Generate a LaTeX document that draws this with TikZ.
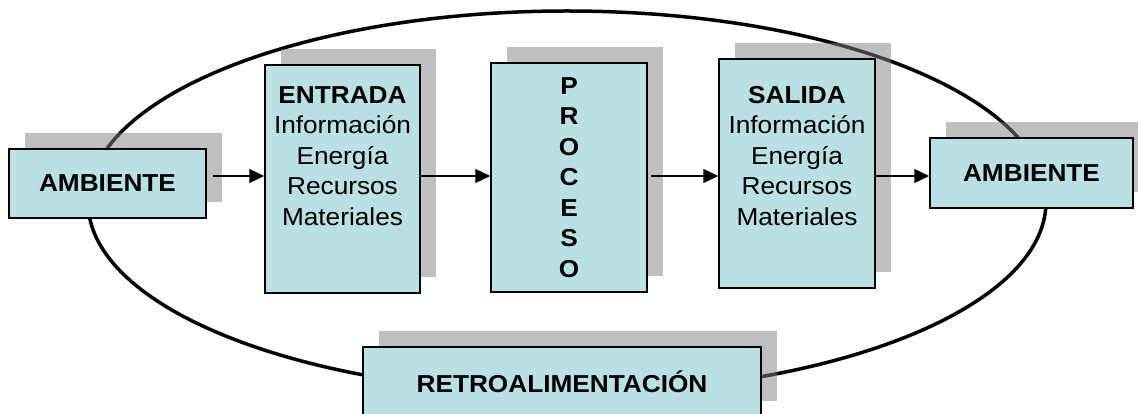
\documentclass[tikz,border=0pt]{standalone}
\usepackage{fontspec}
\setmainfont{Liberation Sans}[FakeStretch=1.07]
\usetikzlibrary{positioning}
\usetikzlibrary{arrows.meta}
\usetikzlibrary{shadows}
\definecolor{boxfill}{RGB}{187,224,227}
\tikzset{
    stage/.style = {rectangle, draw=black, line width=1.5pt, fill=boxfill, inner sep=0pt, align=center,
                    drop shadow={shadow xshift=16pt, shadow yshift=16pt}},
    txt/.style = {align=center, font=\fontsize{24.5}{30.5}\selectfont},
    bold/.style = {align=center, font=\fontsize{24.5}{30.5}\selectfont\bfseries},
    flow/.style = {-{Triangle[length=15pt,width=14pt]}, line width=1.4pt},
    ring/.style = {line width=3.5pt}
}
\begin{document}
\begin{tikzpicture}[x=1pt, y=-1pt]
  \useasboundingbox (0,0) rectangle (1138,414);
  % feedback loop
  \draw[ring] (567,202) ellipse [x radius=479, y radius=191];

  \node[stage, bold, minimum width=197pt, minimum height=69pt] (ambL) at (107.5,183.5) {AMBIENTE};
  \node[stage, minimum width=155pt, minimum height=228pt,
        label={[txt, anchor=north, yshift=-18.5pt]north:{\textbf{ENTRADA}\\Información\\Energía\\Recursos\\Materiales}}]
        (entrada) at (342.5,179) {};
  \node[stage, bold, minimum width=156pt, minimum height=229pt] (proceso) at (569,177.5) {P\\R\\O\\C\\E\\S\\O};
  \node[stage, minimum width=156pt, minimum height=229pt,
        label={[txt, anchor=north, yshift=-24.5pt]north:{\textbf{SALIDA}\\Información\\Energía\\Recursos\\Materiales}}]
        (salida) at (797,173.5) {};
  \node[stage, bold, minimum width=203pt, minimum height=70pt] (ambR) at (1031.5,173) {AMBIENTE};
  \node[stage, bold, minimum width=398pt, minimum height=70pt] (retro) at (562,382) {RETROALIMENTACIÓN};

  \coordinate (lvl) at (0,176);
  \draw[flow, shorten <=6pt] (ambL.east |- lvl) -- (entrada.west |- lvl);
  \draw[flow] (entrada.east |- lvl) -- (proceso.west |- lvl);
  \draw[flow, shorten <=3pt] (proceso.east |- lvl) -- (salida.west |- lvl);
  \draw[flow] (salida.east |- lvl) -- (ambR.west |- lvl);
\end{tikzpicture}
\end{document}
